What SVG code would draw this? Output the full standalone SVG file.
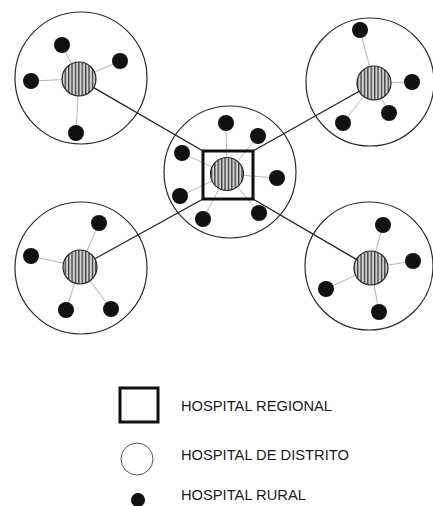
<svg xmlns="http://www.w3.org/2000/svg" width="433" height="506" viewBox="0 0 433 506">
<style>
.bg{fill:#ffffff}
.district{fill:none;stroke:#2a2a2a;stroke-width:1.2}
.hub{fill:url(#hatch);stroke:#2a2a2a;stroke-width:1.2}
.rural{fill:#111111}
.spoke{stroke:#b5b5b5;stroke-width:1}
.link{stroke:#222222;stroke-width:1.3;fill:none}
.regional{fill:none;stroke:#111111;stroke-width:3}
.lbl{font-family:"Liberation Sans",Arial,sans-serif;font-size:14.7px;fill:#1a1a1a}
</style>
<defs>
<pattern id="hatch" patternUnits="userSpaceOnUse" width="3.4" height="10">
<rect width="3.4" height="10" fill="#d2d2d2"/>
<rect x="0" width="1.3" height="10" fill="#3a3a3a"/>
</pattern>
</defs>
<rect class="bg" width="433" height="506"/>

<g id="connectors">
<line class="link" x1="203" y1="151" x2="93.7" y2="87.6"/>
<line class="link" x1="253" y1="151" x2="359.2" y2="91.3"/>
<line class="link" x1="203" y1="199" x2="94.9" y2="258.8"/>
<line class="link" x1="253" y1="199" x2="356.3" y2="259.4"/>
</g>

<g id="cluster-top-left">
<circle class="district" cx="81" cy="78" r="66"/>
<line class="spoke" x1="79" y1="79" x2="62" y2="45"/>
<line class="spoke" x1="79" y1="79" x2="120" y2="61"/>
<line class="spoke" x1="79" y1="79" x2="31" y2="81"/>
<line class="spoke" x1="79" y1="79" x2="76" y2="133"/>
<circle class="hub" cx="79" cy="79" r="17"/>
<circle class="rural" cx="62" cy="45" r="8"/>
<circle class="rural" cx="120" cy="61" r="8"/>
<circle class="rural" cx="31" cy="81" r="8"/>
<circle class="rural" cx="76" cy="133" r="8"/>
</g>

<g id="cluster-top-right">
<circle class="district" cx="370" cy="82" r="64"/>
<line class="spoke" x1="374" y1="83" x2="360" y2="30"/>
<line class="spoke" x1="374" y1="83" x2="412" y2="82"/>
<line class="spoke" x1="374" y1="83" x2="389" y2="113"/>
<line class="spoke" x1="374" y1="83" x2="343" y2="123"/>
<circle class="hub" cx="374" cy="83" r="17"/>
<circle class="rural" cx="360" cy="30" r="8"/>
<circle class="rural" cx="412" cy="82" r="8"/>
<circle class="rural" cx="389" cy="113" r="8"/>
<circle class="rural" cx="343" cy="123" r="8"/>
</g>

<g id="cluster-center">
<circle class="district" cx="230" cy="172" r="66"/>
<line class="spoke" x1="227" y1="174" x2="226" y2="123"/>
<line class="spoke" x1="227" y1="174" x2="258" y2="136"/>
<line class="spoke" x1="227" y1="174" x2="182" y2="153"/>
<line class="spoke" x1="227" y1="174" x2="277" y2="178"/>
<line class="spoke" x1="227" y1="174" x2="180" y2="196"/>
<line class="spoke" x1="227" y1="174" x2="203" y2="219"/>
<line class="spoke" x1="227" y1="174" x2="259" y2="213"/>
<circle class="hub" cx="227" cy="174" r="16.5"/>
<rect class="regional" x="203" y="151" width="50" height="48"/>
<circle class="rural" cx="226" cy="123" r="8"/>
<circle class="rural" cx="258" cy="136" r="8"/>
<circle class="rural" cx="182" cy="153" r="8"/>
<circle class="rural" cx="277" cy="178" r="8"/>
<circle class="rural" cx="180" cy="196" r="8"/>
<circle class="rural" cx="203" cy="219" r="8"/>
<circle class="rural" cx="259" cy="213" r="8"/>
</g>

<g id="cluster-bottom-left">
<circle class="district" cx="81" cy="268" r="66"/>
<line class="spoke" x1="80" y1="267" x2="99" y2="223"/>
<line class="spoke" x1="80" y1="267" x2="31" y2="256"/>
<line class="spoke" x1="80" y1="267" x2="66" y2="310"/>
<line class="spoke" x1="80" y1="267" x2="111" y2="309"/>
<circle class="hub" cx="80" cy="267" r="17"/>
<circle class="rural" cx="99" cy="223" r="8"/>
<circle class="rural" cx="31" cy="256" r="8"/>
<circle class="rural" cx="66" cy="310" r="8"/>
<circle class="rural" cx="111" cy="309" r="8"/>
</g>

<g id="cluster-bottom-right">
<circle class="district" cx="369" cy="266" r="64"/>
<line class="spoke" x1="371" y1="268" x2="383" y2="225"/>
<line class="spoke" x1="371" y1="268" x2="413" y2="261"/>
<line class="spoke" x1="371" y1="268" x2="326" y2="289"/>
<line class="spoke" x1="371" y1="268" x2="379" y2="312"/>
<circle class="hub" cx="371" cy="268" r="17"/>
<circle class="rural" cx="383" cy="225" r="8"/>
<circle class="rural" cx="413" cy="261" r="8"/>
<circle class="rural" cx="326" cy="289" r="8"/>
<circle class="rural" cx="379" cy="312" r="8"/>
</g>

<g id="legend">
<g id="legend-regional">
<rect class="regional" x="120" y="388" width="38" height="34" stroke-width="2.5"/>
<text class="lbl" x="181" y="411">HOSPITAL REGIONAL</text>
</g>
<g id="legend-district">
<circle cx="137" cy="459" r="16" fill="none" stroke="#555555" stroke-width="1"/>
<text class="lbl" x="181" y="460">HOSPITAL DE DISTRITO</text>
</g>
<g id="legend-rural">
<circle class="rural" cx="138" cy="500" r="7"/>
<text class="lbl" x="181" y="500">HOSPITAL RURAL</text>
</g>
</g>
</svg>
